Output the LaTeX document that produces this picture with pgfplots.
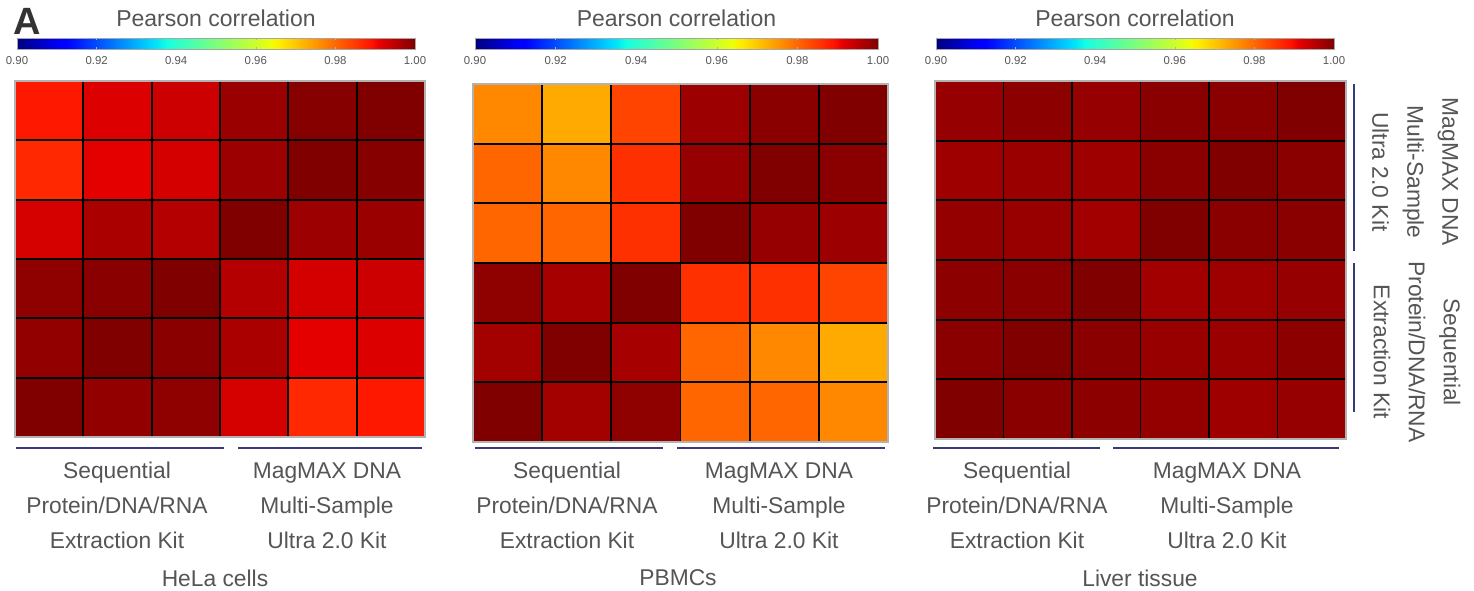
\documentclass[border=0pt]{standalone}
\usepackage{pgfplots}
\pgfplotsset{compat=1.18}
\usetikzlibrary{calc}
\usepackage{fontspec}
\setmainfont{Liberation Sans}
\definecolor{txt}{HTML}{555555}
\definecolor{navy}{HTML}{3A3A78}
\pgfplotsset{
  colormap={mpljet}{rgb(0pt)=(0,0,0.5); rgb(110pt)=(0,0,1); rgb(125pt)=(0,0,1); rgb(340pt)=(0,0.86,1); rgb(350pt)=(0,0.9,0.968); rgb(375pt)=(0.081,1,0.887); rgb(640pt)=(0.935,1,0.032); rgb(650pt)=(0.968,0.963,0); rgb(660pt)=(1,0.926,0); rgb(890pt)=(1,0.074,0); rgb(910pt)=(0.909,0,0); rgb(1000pt)=(0.5,0,0)},
  heat/.style={
    scale only axis, colormap name=mpljet,
    point meta min=0.90, point meta max=1.00,
    xmin=-0.5, xmax=5.5, ymin=-0.5, ymax=5.5, enlargelimits=false,
    xtick={0.5,1.5,2.5,3.5,4.5}, ytick={0.5,1.5,2.5,3.5,4.5},
    xticklabels={}, yticklabels={}, major tick length=0pt,
    grid=major, major grid style={black, line width=0.9pt},
    axis on top, axis line style={gray!60, line width=0.6pt},
    anchor=south west,
    colorbar horizontal,
    colorbar style={scale only axis, anchor=south west, height=5.5pt,
      xtick={0.90,0.92,0.94,0.96,0.98,1.00},
      xticklabel pos=lower,
      xticklabel style={font=\fontsize{5.7}{6}\selectfont, text=txt,
        /pgf/number format/.cd, fixed, fixed zerofill, precision=2, assume math mode=true},
      major tick length=1pt, tick style={gray!60},
      axis line style={gray!70, line width=0.4pt},
      title={Pearson correlation},
      title style={font=\fontsize{11.5}{12}\selectfont, text=txt, yshift=-4pt},
    },
  },
}
\begin{document}
\begin{tikzpicture}
\useasboundingbox (0,0) rectangle (737pt,295pt);
\node[font=\fontsize{19}{20}\selectfont\bfseries, text=black!80] at (13.5pt,284.25pt) {A};

% HeLa cells
\begin{axis}[heat, at={(7.5pt,76.5pt)}, width=205pt, height=178pt,
  colorbar style={at={($(parent axis.north west)+(1pt,24.5pt)$)}, width=199pt}]
\addplot[matrix plot*, mesh/cols=6, mesh/ordering=x varies, point meta=explicit] table[meta=c] {
x y c
0 0 1.0000
1 0 0.9984
2 0 0.9987
3 0 0.9926
4 0 0.9868
5 0 0.9885
0 1 0.9984
1 1 1.0000
2 1 0.9991
3 1 0.9963
4 1 0.9912
5 1 0.9919
0 2 0.9987
1 2 0.9991
2 2 1.0000
3 2 0.9955
4 2 0.9927
5 2 0.9934
0 3 0.9926
1 3 0.9963
2 3 0.9955
3 3 1.0000
4 3 0.9975
5 3 0.9977
0 4 0.9868
1 4 0.9912
2 4 0.9927
3 4 0.9975
4 4 1.0000
5 4 0.9994
0 5 0.9885
1 5 0.9919
2 5 0.9934
3 5 0.9977
4 5 0.9994
5 5 1.0000
};
\end{axis}

% PBMCs
\begin{axis}[heat, at={(236.5pt,74pt)}, width=207.5pt, height=179pt,
  colorbar style={at={($(parent axis.north west)+(1pt,26pt)$)}, width=201.5pt}]
\addplot[matrix plot*, mesh/cols=6, mesh/ordering=x varies, point meta=explicit] table[meta=c] {
x y c
0 0 1.0000
1 0 0.9969
2 0 0.9987
3 0 0.9802
4 0 0.9802
5 0 0.9766
0 1 0.9969
1 1 1.0000
2 1 0.9967
3 1 0.9802
4 1 0.9766
5 1 0.9730
0 2 0.9987
1 2 0.9967
2 2 1.0000
3 2 0.9859
4 2 0.9859
5 2 0.9838
0 3 0.9802
1 3 0.9802
2 3 0.9859
3 3 1.0000
4 3 0.9980
5 3 0.9975
0 4 0.9802
1 4 0.9766
2 4 0.9859
3 4 0.9980
4 4 1.0000
5 4 0.9991
0 5 0.9766
1 5 0.9730
2 5 0.9838
3 5 0.9975
4 5 0.9991
5 5 1.0000
};
\end{axis}

% Liver tissue
\begin{axis}[heat, at={(467.5pt,75.5pt)}, width=205.5pt, height=179pt,
  colorbar style={at={($(parent axis.north west)+(0.5pt,24.5pt)$)}, width=199pt}]
\addplot[matrix plot*, mesh/cols=6, mesh/ordering=x varies, point meta=explicit] table[meta=c] {
x y c
0 0 1.0000
1 0 0.9991
2 0 0.9988
3 0 0.9982
4 0 0.9974
5 0 0.9981
0 1 0.9991
1 1 1.0000
2 1 0.9991
3 1 0.9979
4 1 0.9977
5 1 0.9988
0 2 0.9988
1 2 0.9991
2 2 1.0000
3 2 0.9970
4 2 0.9974
5 2 0.9981
0 3 0.9982
1 3 0.9979
2 3 0.9970
3 3 1.0000
4 3 0.9991
5 3 0.9991
0 4 0.9974
1 4 0.9977
2 4 0.9974
3 4 0.9991
4 4 1.0000
5 4 0.9991
0 5 0.9981
1 5 0.9988
2 5 0.9981
3 5 0.9991
4 5 0.9991
5 5 1.0000
};
\end{axis}

% group lines below
\begin{scope}[navy, line width=0.7pt]
\draw (8pt,71pt) -- (112pt,71pt);
\draw (119pt,71pt) -- (211pt,71pt);
\draw (237.5pt,71pt) -- (331.5pt,71pt);
\draw (338.5pt,71pt) -- (442.5pt,71pt);
\draw (466.5pt,71pt) -- (550pt,71pt);
\draw (556.5pt,71pt) -- (669.5pt,71pt);
\draw (677pt,253pt) -- (677pt,169.5pt);
\draw (677pt,163.5pt) -- (677pt,89pt);
\end{scope}

\begin{scope}[every node/.style={align=center, text=txt, font=\fontsize{11.4}{17.5}\selectfont}]
\node at (58.5pt,42.5pt) {Sequential\\Protein/DNA/RNA\\Extraction Kit};
\node at (163.5pt,42pt) {MagMAX DNA\\Multi-Sample\\Ultra 2.0 Kit};
\node at (283.5pt,42.5pt) {Sequential\\Protein/DNA/RNA\\Extraction Kit};
\node at (389.5pt,42pt) {MagMAX DNA\\Multi-Sample\\Ultra 2.0 Kit};
\node at (508.5pt,42.5pt) {Sequential\\Protein/DNA/RNA\\Extraction Kit};
\node at (613.5pt,42pt) {MagMAX DNA\\Multi-Sample\\Ultra 2.0 Kit};
\node at (107.5pt,6pt) {HeLa cells};
\node at (339pt,6pt) {PBMCs};
\node at (570pt,6pt) {Liver tissue};
\node[rotate=-90] at (707.5pt,209pt) {MagMAX DNA\\Multi-Sample\\Ultra 2.0 Kit};
\node[rotate=-90] at (708.5pt,119pt) {Sequential\\Protein/DNA/RNA\\Extraction Kit};
\end{scope}
\end{tikzpicture}
\end{document}
